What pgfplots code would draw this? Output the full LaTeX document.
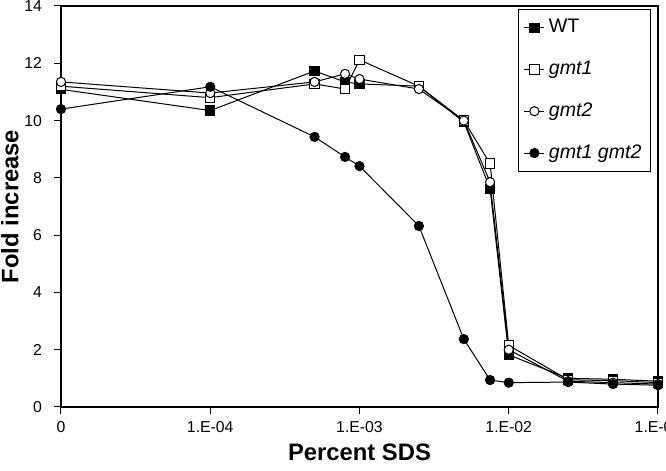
\documentclass[border=0pt]{standalone}
\usepackage{pgfplots}
\pgfplotsset{compat=1.18}
\usepackage{fontspec}
\setmainfont{Liberation Sans}
\begin{document}
\begin{tikzpicture}
\begin{axis}[
  at={(0,0)}, anchor=south west,
  width=298.5pt, height=200.5pt, scale only axis,
  xmin=-5, xmax=-1, ymin=0, ymax=14,
  xtick={-5,-4,-3,-2,-1},
  xticklabels={0,1.E-04,1.E-03,1.E-02,1.E-01},
  ytick={0,2,4,6,8,10,12,14},
  tick align=outside,
  major tick length=3.5pt,
  xtick pos=bottom, ytick pos=left,
  /pgf/number format/assume math mode=true,
  tick label style={font=\fontsize{7.9}{9}\selectfont},
  yticklabel style={xshift=-2.5pt},
  xlabel={Percent SDS},
  ylabel={Fold increase},
  label style={font=\fontsize{11.9}{14}\selectfont\bfseries},
  xlabel style={yshift=1pt},
  ylabel style={yshift=-4pt},
  axis line style={line width=0.6pt},
  every tick/.style={black, line width=0.5pt},
  legend cell align=left,
  legend style={at={(1,1)}, anchor=north east, xshift=-3.5pt, yshift=-1.5pt,
    draw=black, line width=0.5pt, font=\fontsize{9.8}{11}\selectfont,
    row sep=8.6pt, inner xsep=2.5pt, inner ysep=3pt},
  legend image code/.code={\draw[mark repeat=2,mark phase=2,#1] plot coordinates {(0pt,0pt) (5pt,0pt) (10pt,0pt)};},
  every axis plot/.append style={black, line width=0.5pt},
]
\addplot[mark=square*, mark size=2.3pt, mark options={fill=black, solid}] coordinates {
(-5,11.09) (-4,10.35) (-3.301,11.73) (-3.097,11.35) (-3,11.28) (-2.602,11.2)
(-2.301,9.95) (-2.125,7.62) (-2,1.82) (-1.602,1.0) (-1.301,0.97) (-1,0.9)};
\addlegendentry{WT}
\addplot[mark=square*, mark size=2.3pt, mark options={fill=white, solid}] coordinates {
(-5,11.2) (-4,10.8) (-3.301,11.28) (-3.097,11.1) (-3,12.12) (-2.602,11.2)
(-2.301,10.0) (-2.125,8.5) (-2,2.15) (-1.602,0.95) (-1.301,0.92) (-1,0.85)};
\addlegendentry{\textit{gmt1}}
\addplot[mark=*, mark size=2.3pt, mark options={fill=white, solid}] coordinates {
(-5,11.35) (-4,10.96) (-3.301,11.35) (-3.097,11.63) (-3,11.45) (-2.602,11.1)
(-2.301,10.0) (-2.125,7.85) (-2,2.0) (-1.602,0.9) (-1.301,0.85) (-1,0.8)};
\addlegendentry{\textit{gmt2}}
\addplot[mark=*, mark size=2.3pt, mark options={fill=black, solid}] coordinates {
(-5,10.4) (-4,11.18) (-3.301,9.43) (-3.097,8.73) (-3,8.41) (-2.602,6.32)
(-2.301,2.37) (-2.125,0.94) (-2,0.85) (-1.602,0.87) (-1.301,0.8) (-1,0.76)};
\addlegendentry{\textit{gmt1 gmt2}}
\end{axis}
\pgfresetboundingbox
\path[use as bounding box] (-30.5pt,-32pt) rectangle (302.5pt,203.5pt);
\end{tikzpicture}
\end{document}
